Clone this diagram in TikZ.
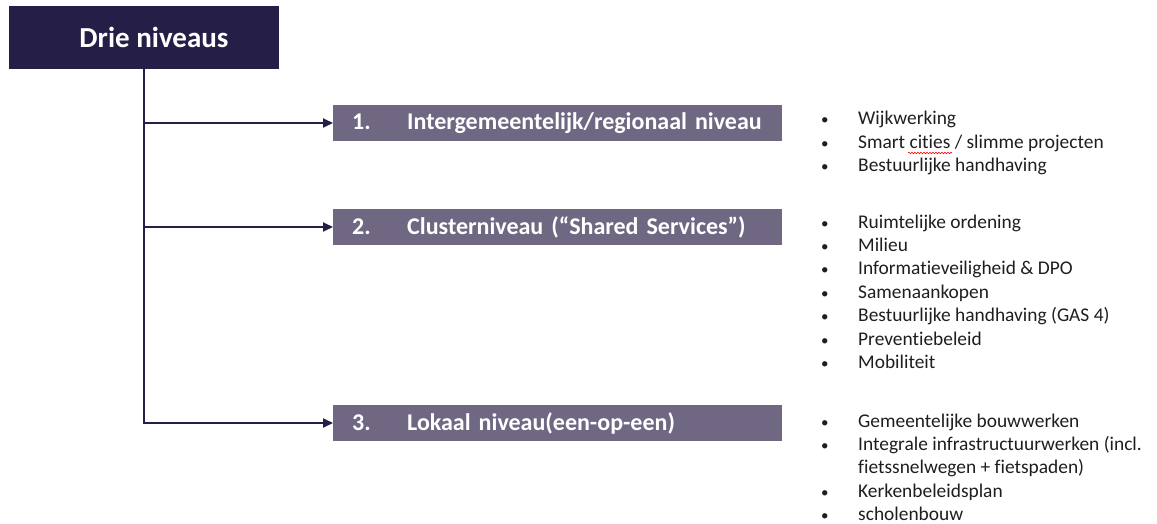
\documentclass[tikz,border=0pt]{standalone}
\usepackage{fontspec}
\setmainfont{Carlito}[Ligatures=NoCommon]
\usetikzlibrary{arrows.meta,decorations.pathmorphing}
\definecolor{navy}{RGB}{37,30,71}
\definecolor{levelfill}{RGB}{112,104,131}
\definecolor{listtext}{RGB}{30,30,30}
\tikzset{
  headbox/.style={fill=navy,text=white,font=\bfseries\fontsize{29}{33}\selectfont,
    minimum width=270pt,minimum height=63pt,inner sep=0pt},
  levelbox/.style={fill=levelfill,text=white,font=\bfseries\fontsize{24}{28}\selectfont,
    anchor=west,minimum height=36pt,text width=411pt,inner xsep=19pt,inner ysep=0pt,align=left},
  itemlist/.style={anchor=base west,inner sep=0pt,text=listtext,font=\fontsize{19.4}{23.4}\selectfont},
  link/.style={draw=navy,line width=2pt,-{Triangle[length=10pt,width=9pt]}},
}
\newcommand{\lvl}[2]{\makebox[55pt][l]{#1}#2}
\newcommand{\bul}{\makebox[37pt][l]{{\fontsize{15}{15}\selectfont\textbullet}}}
\newcommand{\nobul}{\hspace*{37pt}}
\begin{document}
\begin{tikzpicture}[x=1pt,y=-1pt]
  \useasboundingbox (0,0) rectangle (1157,524);
  \node[headbox] (head) at (144,37.5) {\hspace*{20pt}Drie niveaus};
  \node[levelbox] (lvl1) at (333,123) {\lvl{1.}{Intergemeentelijk/regionaal niveau}};
  \node[levelbox] (lvl2) at (333,227) {\lvl{2.}{Clusterniveau (“Shared Services”)}};
  \node[levelbox] (lvl3) at (333,423) {\lvl{3.}{Lokaal niveau(een-op-een)}};
  % lists
  \node[itemlist] (list1) at (821,125) {\begin{tabular}[t]{@{}l@{}}
    \bul Wijkwerking\\
    \bul Smart cities / slimme projecten\\
    \bul Bestuurlijke handhaving
  \end{tabular}};
  \node[itemlist] (list2) at (821,228) {\begin{tabular}[t]{@{}l@{}}
    \bul Ruimtelijke ordening\\
    \bul Milieu\\
    \bul Informatieveiligheid \& DPO\\
    \bul Samenaankopen\\
    \bul Bestuurlijke handhaving (GAS 4)\\
    \bul Preventiebeleid\\
    \bul Mobiliteit
  \end{tabular}};
  \node[itemlist] (list3) at (821,427) {\begin{tabular}[t]{@{}l@{}}
    \bul Gemeentelijke bouwwerken\\
    \bul Integrale infrastructuurwerken (incl.\\
    \nobul fietssnelwegen + fietspaden)\\
    \bul Kerkenbeleidsplan\\
    \bul scholenbouw
  \end{tabular}};
  % spelling mark
  \draw[red,line width=0.6pt,decorate,decoration={snake,segment length=3pt,amplitude=0.8pt}]
    ([shift={(87,28)}]list1.base west) -- ([shift={(131,28)}]list1.base west);
  % connectors
  \begin{scope}[link]
    \draw (head.south) |- (lvl3.west);
    \draw (head.south |- lvl1.west) -- (lvl1.west);
    \draw (head.south |- lvl2.west) -- (lvl2.west);
  \end{scope}
\end{tikzpicture}
\end{document}
